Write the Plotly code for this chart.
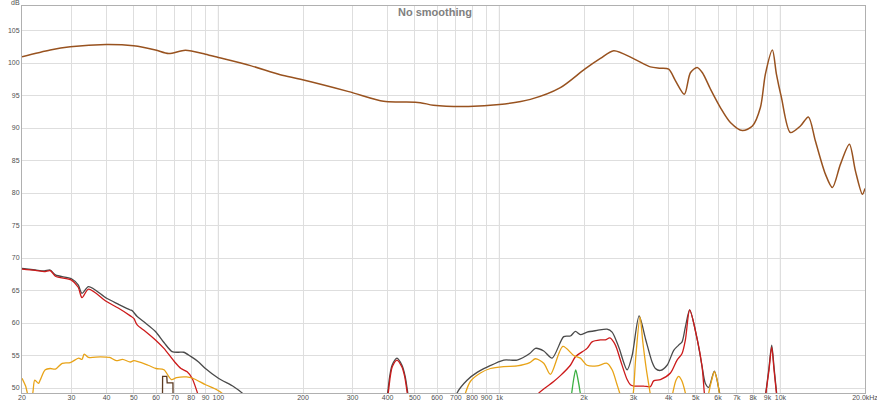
import plotly.graph_objects as go

# ---------------- data ----------------
main_freq = [20, 25.2, 29.7, 39.9, 49.9, 59.7, 66.5, 76.3, 89.9, 100, 130, 166, 196, 291, 387, 444, 523, 582,
             776, 1000, 1289, 1648, 2012, 2288, 2552, 3023, 3446, 3740, 4004, 4229, 4553, 4783, 5052, 5277,
             5636, 6116, 6638, 7323, 7950, 8488, 8843, 9365, 9678, 10083, 10854, 11780, 12577, 13320, 14460,
             15310, 16350, 17600, 18490, 19580, 20000]
main_db = [100.95, 102.0, 102.5, 102.85, 102.65, 102.0, 101.45, 101.95, 101.35, 100.85, 99.6, 98.2, 97.5, 95.6,
           94.1, 94.0, 93.9, 93.5, 93.3, 93.6, 94.4, 96.2, 99.05, 100.7, 101.9, 100.6, 99.4, 99.2, 99.05, 97.3,
           95.2, 98.5, 99.3, 98.5, 96.0, 93.15, 90.85, 89.6, 90.3, 93.15, 98.3, 102.0, 98.3, 94.7, 89.3, 90.3,
           91.7, 88.0, 82.9, 80.85, 84.4, 87.5, 83.4, 79.8, 80.7]

black_freq = [20, 22.3, 24.0, 25.2, 26.3, 30, 31.7, 32.7, 34.5, 40, 44, 48.6, 49.3, 51.4, 55, 59.7, 64, 68.4, 72,
              75.2, 79.5, 85, 89.9, 100, 113.4, 121.7, 126,
              None,
              390, 400, 407, 415, 432, 450, 462, 472, 482,
              None,
              690, 706, 767, 833, 904, 1036, 1156, 1282, 1343, 1438, 1540, 1694, 1789, 1864, 1942, 2051, 2226,
              2416, 2518, 2658, 2848, 2967, 3142, 3313, 3494, 3590, 3740, 3951, 4172, 4345, 4467, 4591, 4755,
              5052, 5264, 5408, 5557, 5821, 6066, 6200,
              None,
              8700, 8868, 9100, 9311, 9500, 9696, 9850]
black_db = [68.4, 68.15, 68.0, 68.15, 67.4, 66.8, 65.85, 64.55, 65.6, 63.8, 62.9, 62.0, 61.9, 61.0, 60.0, 58.7,
            57.0, 55.6, 55.5, 55.5, 54.9, 54.0, 53.0, 51.5, 50.2, 49.2, 48.5,
            None,
            46.5, 49.2, 51.8, 53.5, 54.6, 53.5, 51.8, 49.2, 46.5,
            None,
            47.5, 49.2, 51.2, 52.4, 53.2, 54.3, 54.3, 55.3, 56.1, 55.7, 54.6, 57.9, 58.0, 58.7, 58.2, 58.6, 58.85,
            59.05, 58.6, 56.3, 52.8, 55.0, 61.1, 57.5, 54.0, 53.0, 52.7, 53.5, 55.8, 56.6, 57.1, 59.4, 62.0,
            57.6, 53.3, 50.7, 50.1, 52.6, 49.4, 47.5,
            None,
            46.5, 49.2, 53.0, 56.6, 53.0, 49.2, 46.5]

red_freq = [20, 22.3, 24.0, 25.2, 26.3, 30, 31.7, 32.7, 34.5, 40, 44, 48.6, 50, 51.4, 55, 59.7, 64, 69.9, 73.6,
            77.4, 80.6, 84.3, 87,
            None,
            392, 402, 409, 416, 432, 449, 460, 470, 480,
            None,
            1320, 1380, 1560, 1648, 1789, 1864, 2051, 2137, 2288, 2383, 2473, 2587, 2695, 2848, 2925, 3006,
            3262, 3446, 3540, 3740, 4061, 4288, 4467, 4591, 4755, 5052, 5264, 5363, 5450,
            None,
            8720, 8880, 9110, 9311, 9490, 9680, 9840]
red_db = [68.3, 68.1, 67.9, 68.05, 67.2, 66.6, 65.5, 63.9, 65.2, 63.3, 62.3, 61.1, 60.7, 59.7, 58.7, 57.4, 56.1,
          54.0, 53.0, 52.5, 51.5, 49.2, 47.5,
          None,
          46.5, 49.2, 51.8, 53.3, 54.3, 53.3, 51.8, 49.2, 46.5,
          None,
          47.8, 49.2, 51.0, 51.9, 53.5, 54.8, 56.1, 57.1, 57.4, 57.4, 57.7, 56.6, 54.3, 51.3, 50.5, 50.3, 50.3,
          50.2, 51.1, 51.3, 52.3, 54.3, 55.3, 57.4, 62.0, 57.6, 53.3, 49.2, 47.0,
          None,
          46.5, 49.2, 52.8, 56.3, 52.8, 49.2, 46.5]

orange_freq = [20, 20.6, 21.1, 21.7, 22.2, 22.9, 23.2, 24.2, 25.2, 26.3, 27.8, 29.7, 31.8, 32.7, 33.3, 34.5, 38,
               41, 43.3, 45.6, 48.6, 50, 56.2, 60, 64, 68, 71, 77, 81, 90, 99, 103, 108,
               None,
               740, 757, 788, 856, 929, 1036, 1156, 1282, 1343, 1438, 1519, 1682, 1838, 1942, 2051, 2226, 2416,
               2518, 2623, 2680, 2720,
               None,
               2950, 3000, 3060, 3165, 3240, 3330, 3430, 3500,
               None,
               4050, 4138, 4250, 4345, 4450, 4591, 4680,
               None,
               5450, 5557, 5700, 5821, 5950, 6066, 6180]
orange_db = [51.5, 50.3, 48.8, 48.8, 51.2, 50.7, 51.2, 52.8, 53.0, 52.9, 53.8, 53.9, 54.6, 54.4, 55.2, 54.7, 54.8,
             54.7, 54.2, 54.4, 54.0, 54.2, 53.5, 53.0, 52.8, 51.3, 51.6, 51.7, 51.5, 50.5, 49.7, 49.2, 48.3,
             None,
             47.5, 49.2, 51.0, 52.3, 53.0, 53.3, 53.4, 53.9, 54.5, 53.8, 52.1, 56.4, 55.0, 54.6, 53.5, 53.4, 53.8,
             52.8, 50.5, 49.2, 48.0,
             None,
             47.0, 49.5, 55.0, 60.9, 57.0, 53.0, 49.5, 47.0,
             None,
             47.0, 49.2, 51.2, 51.8, 51.2, 49.2, 47.0,
             None,
             47.0, 49.2, 51.3, 52.5, 51.3, 49.2, 47.0]

green_freq = [1780, 1808, 1840, 1869, 1900, 1940, 1970]
green_db = [47.0, 49.2, 51.5, 52.8, 51.5, 49.2, 47.0]

brown_freq = [63.2, 63.3, 65.5, 65.7, 68.9, 69.0]
brown_db = [47.0, 51.8, 51.8, 50.8, 50.8, 47.0]

x_tickvals = [20, 30, 40, 50, 60, 70, 80, 90, 100, 200, 300, 400, 500, 600, 700, 800, 900,
              1000, 2000, 3000, 4000, 5000, 6000, 7000, 8000, 9000, 10000, 20000]
x_ticktext = ["20", "30", "40", "50", "60", "70", "80", "90", "100", "200", "300", "400", "500", "600", "700",
              "800", "900", "1k", "2k", "3k", "4k", "5k", "6k", "7k", "8k", "9k", "10k", "20.0kHz"]
y_tickvals = [50, 55, 60, 65, 70, 75, 80, 85, 90, 95, 100, 105]
decade_lines = [100, 1000, 10000]

# ---------------- figure ----------------
fig = go.Figure()

def add(xs, ys, color, width=1.3, shape="spline", smoothing=0.8):
    fig.add_trace(go.Scatter(x=xs, y=ys, mode="lines", connectgaps=False,
                             line=dict(color=color, width=width, shape=shape,
                                       smoothing=smoothing if shape == "spline" else None),
                             hoverinfo="skip", showlegend=False))

add(black_freq, black_db, "#4a4a4a")
add(red_freq, red_db, "#cc1a1a")
add(orange_freq, orange_db, "#e8a317")
add(green_freq, green_db, "#3cb043")
add(brown_freq, brown_db, "#5c3a21", shape="linear")
add(main_freq, main_db, "#98521f", width=1.5)

for v in decade_lines:
    fig.add_shape(type="line", xref="x", yref="paper", x0=v, x1=v, y0=0, y1=1,
                  line=dict(color="#b4b4b4", width=1), layer="below")

fig.update_layout(
    width=877, height=403,
    margin=dict(l=22, r=12, t=6, b=10, autoexpand=False),
    paper_bgcolor="white", plot_bgcolor="white",
    font=dict(family="Liberation Sans, Arial, sans-serif", size=7, color="#505050"),
    xaxis=dict(type="log", range=[1.30102, 4.30106], tickvals=x_tickvals, ticktext=x_ticktext,
               showgrid=True, gridcolor="#dedede", gridwidth=1, ticks="", zeroline=False,
               showline=True, mirror=True, linecolor="#b0b0b0", linewidth=1, automargin=False,
               ticklabelstandoff=-2, ticklabeloverflow="allow",
               tickfont=dict(size=7, color="#505050")),
    yaxis=dict(range=[49.23, 108.77], tickvals=y_tickvals, showgrid=True, gridcolor="#dedede",
               gridwidth=1, ticks="", zeroline=False, showline=True, mirror=True, linecolor="#b0b0b0",
               linewidth=1, automargin=False, ticklabelstandoff=0,
               tickfont=dict(size=7, color="#505050")),
    annotations=[
        dict(text="<b>No smoothing</b>", xref="paper", yref="paper", x=0.49, y=0.985,
             xanchor="center", yanchor="middle", showarrow=False,
             font=dict(size=11, color="#808080", family="Liberation Sans, Arial, sans-serif")),
        dict(text="dB", xref="paper", yref="paper", x=0.0, y=1.008, xanchor="right",
             yanchor="middle", showarrow=False, font=dict(size=7, color="#505050")),
    ],
)

fig.write_html("out.html", config={"displayModeBar": False},
               post_script="document.body.style.margin='0';")
